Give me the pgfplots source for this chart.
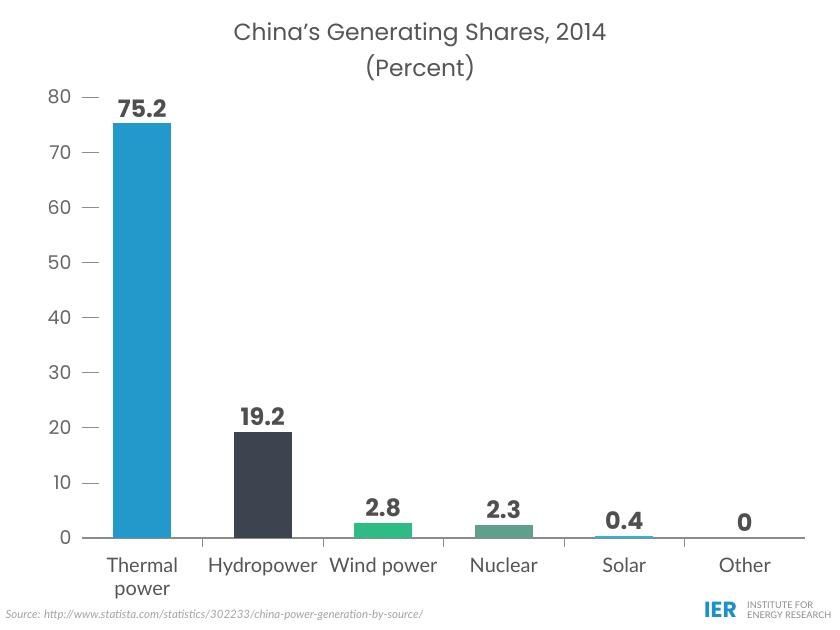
\documentclass[border=0pt]{standalone}
\usepackage{pgfplots}
\pgfplotsset{compat=1.18}
\usepackage{fontspec}
\setmainfont{Poppins}
\newfontfamily\catfont{Lato}
\newfontfamily\srcfont{Lato}
\definecolor{thermal}{HTML}{2398CB}
\definecolor{hydro}{HTML}{3C4450}
\definecolor{wind}{HTML}{2EBB85}
\definecolor{nuclear}{HTML}{5FA08C}
\definecolor{solar}{HTML}{2BB5DE}
\definecolor{txt}{HTML}{555555}
\definecolor{val}{HTML}{4F4F4F}
\definecolor{axisgray}{HTML}{8C8C8C}
\definecolor{ierblue}{HTML}{1E90C8}
\begin{document}
\begin{tikzpicture}[x=1bp,y=1bp]
\path[use as bounding box, fill=white] (-82,-92) rectangle (758,538);
\begin{axis}[
  at={(0,0)}, anchor=south west,
  scale only axis,
  width=723bp, height=441bp,
  xmin=-0.5, xmax=5.5,
  ymin=0, ymax=80,
  axis x line=bottom, axis y line=left,
  x axis line style={draw=axisgray, line width=1.2pt, -},
  y axis line style={draw=none},
  ytick={0,10,...,80},
  ytick style={draw=axisgray, line width=0.6pt},
  tick align=inside,
  major tick length=17bp,
  yticklabel style={font=\fontsize{19}{22}\selectfont, text=txt!90, xshift=-7bp},
  /pgf/number format/assume math mode=true,
  xtick={0,1,2,3,4,5},
  xticklabels={Thermal\\power, Hydropower, Wind power, Nuclear, Solar, Other},
  xticklabel style={font=\catfont\fontsize{20}{23.5}\selectfont, text=txt, align=center, yshift=1bp},
  xtick style={draw=none},
  extra x ticks={0.5,1.5,2.5,3.5,4.5},
  extra x tick labels={},
  extra x tick style={major tick length=9bp, xtick style={draw=axisgray, line width=0.6pt}},
  bar width=58bp,
  ybar, bar shift=0pt,
  nodes near coords,
  nodes near coords style={font=\bfseries\fontsize{24}{28}\selectfont, text=val, /pgf/number format/fixed, /pgf/number format/precision=1, inner sep=2pt, yshift=4bp},
  clip=false,
]
\addplot[fill=thermal, draw=none] coordinates {(0,75.2)};
\addplot[fill=hydro, draw=none] coordinates {(1,19.2)};
\addplot[fill=wind, draw=none] coordinates {(2,2.8)};
\addplot[fill=nuclear, draw=none] coordinates {(3,2.3)};
\addplot[fill=solar, draw=none] coordinates {(4,0.4)};
\addplot[fill=none, draw=none] coordinates {(5,0)};
\end{axis}
\node[text=txt, font=\fontsize{23.5}{28}\selectfont] at (338,503) {China’s Generating Shares, 2014};
\node[text=txt, font=\fontsize{23.5}{28}\selectfont] at (338,470) {(Percent)};
\node[anchor=west, text=axisgray!80, font=\srcfont\itshape\fontsize{11.5}{13}\selectfont] at (-80,-77) {Source: http://www.statista.com/statistics/302233/china-power-generation-by-source/};
\node[anchor=west, text=ierblue, font=\bfseries\fontsize{22}{24}\selectfont, inner sep=0] at (622,-72) {IER};
\node[anchor=west, text=axisgray, font=\catfont\fontsize{9.2}{10.5}\selectfont, align=left, inner sep=0] at (665,-72) {INSTITUTE FOR\\ENERGY RESEARCH};
\end{tikzpicture}
\end{document}
